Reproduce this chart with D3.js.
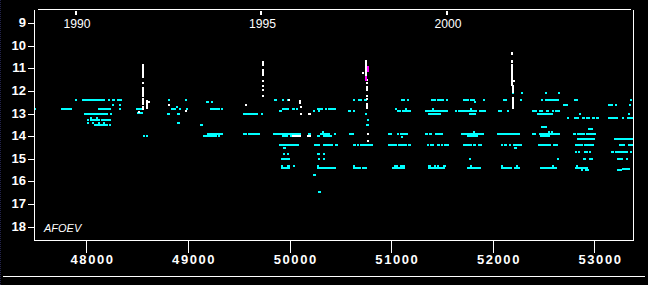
<!DOCTYPE html>
<html><head><meta charset="utf-8">
<script src="https://cdn.jsdelivr.net/npm/d3@7"></script>
<style>
html,body{margin:0;padding:0;background:#000;overflow:hidden;}
svg{display:block;}
</style></head><body>
<svg id="c" width="648" height="285"></svg>
<script>
// ---- data ----
const yearLabels = ["1990", "1995", "2000"];
const yearJD = [47892.5, 49718.5, 51544.5];
const jdTicks = [48000, 49000, 50000, 51000, 52000, 53000];
const magTicks = [9, 10, 11, 12, 13, 14, 15, 16, 17, 18];

// visual observations, runs: [JD start, JD end, magnitude]
const cyanRuns = [
[47485,47485,12.8],[47751,47839,12.8],[47889,47889,12.4],[47957,48164,12.4],[48213,48213,12.4],
[48253,48262,12.4],[48302,48331,12.4],[48115,48223,12.8],[48253,48253,12.6],[48322,48322,12.6],
[48322,48322,12.8],[47977,48194,13.0],[48233,48233,13.0],[48036,48036,13.2],[48095,48095,13.2],
[48007,48007,13.3],[48007,48007,13.4],[48036,48115,13.3],[48144,48223,13.3],[48076,48194,13.5],
[48223,48223,13.5],[48056,48056,13.4],[48115,48115,13.4],[48164,48164,13.4],
[48489,48538,12.8],[48499,48538,12.95],[48562,48562,14.0],[48587,48587,14.0],
[48794,48804,13.0],[48804,48804,12.4],[48833,48862,12.8],[48882,48882,12.7],[48912,48912,12.8],
[48892,48902,13.0],[48892,48902,13.4],[48971,48971,12.4],[48981,48981,12.8],
[49178,49188,12.5],[49227,49227,12.5],[49217,49296,12.8],[49325,49325,12.8],[49119,49128,13.5],
[49188,49325,13.9],[49148,49266,14.0],[49296,49296,14.0],[49542,49670,13.0],[49719,49719,13.0],
[49542,49561,13.9],[49591,49690,13.9],[49847,49857,12.4],[49926,49926,12.4],[49975,49975,12.4],
[49926,49975,12.8],[50024,50034,12.8],[50064,50064,12.8],[49896,49906,12.9],[49837,50093,13.9],
[49926,49965,14.0],[50004,50004,14.0],[50182,50191,13.9],[50270,50310,12.8],[50349,50349,12.8],
[50378,50418,12.8],[50438,50438,12.8],[50231,50231,12.9],[50280,50280,12.9],[50300,50378,13.9],
[50319,50319,13.8],[50270,50280,14.0],[50329,50398,14.0],[49896,50073,14.4],[49936,49946,14.5],
[49936,49936,14.8],[49975,49975,14.8],[49916,49985,15.0],[49916,49916,15.3],[49975,49985,15.3],
[49916,49985,15.4],[50034,50034,15.3],[50231,50241,15.7],[50280,50290,16.45],[50241,50280,14.4],
[50329,50408,14.4],[50270,50280,14.8],[50329,50329,14.8],[50280,50280,15.0],[50329,50329,15.0],
[50270,50270,15.3],[50270,50418,15.4],
[50575,50585,12.9],[50625,50625,12.9],[50625,50625,12.4],[50674,50693,12.4],[50733,50743,12.4],
[50743,50743,13.0],[50762,50762,13.3],[50753,50762,13.5],[51097,51117,12.4],[51156,51156,12.4],
[51392,51422,12.4],[51451,51501,12.4],[51540,51540,12.4],[51707,51747,12.4],[51776,51806,12.4],
[51816,51816,12.5],[51904,51904,12.4],[51038,51038,12.8],[51136,51136,12.8],[51058,51077,12.9],
[51107,51176,12.9],[51402,51402,12.8],[51333,51540,12.9],[51363,51471,13.0],[51629,51629,12.9],
[51658,51826,12.9],[51776,51776,12.8],[51766,51816,13.0],[51865,51894,12.9],
[50438,50438,13.9],[50585,50615,13.9],[50969,50989,13.9],[51058,51058,13.9],[51087,51146,13.9],
[51097,51097,14.05],[51333,51343,13.9],[51373,51382,13.9],[51432,51491,13.9],[51688,51894,13.9],
[51747,51835,14.0],[51806,51806,13.8],
[50447,50457,14.4],[50625,50635,14.4],[50664,50664,14.4],[50693,50802,14.4],[50969,51038,14.4],
[51068,51136,14.4],[51166,51176,14.4],[51353,51353,14.4],[51382,51402,14.4],[51451,51461,14.4],
[51491,51491,14.4],[51520,51550,14.4],[51707,51776,14.4],[51806,51816,14.4],[51855,51875,14.4],
[51766,51766,15.0],[50438,50438,15.4],[50625,50684,15.4],[50625,50625,15.3],[50713,50743,15.4],
[51008,51117,15.4],[51028,51048,15.3],[51087,51117,15.3],[51363,51510,15.4],[51363,51373,15.3],
[51422,51422,15.3],[51451,51451,15.3],[51510,51520,15.3],[51747,51865,15.4],[51776,51776,15.3],
[52190,52190,12.1],[52278,52278,12.1],[52514,52514,12.1],[52642,52642,12.1],[52101,52121,12.4],
[52268,52268,12.4],[52475,52475,12.4],[52514,52633,12.4],[52800,52820,12.4],[53351,53351,12.4],
[52692,52721,12.6],[53135,53164,12.6],[53203,53203,12.6],[53341,53341,12.6],[52849,52849,13.0],
[53331,53331,13.0],[51914,51914,12.9],[52052,52072,12.9],[52140,52140,12.9],[52386,52416,12.9],
[52455,52475,12.9],[52524,52534,12.9],[52583,52583,12.9],[52613,52642,12.9],[52436,52573,13.0],
[52731,52731,13.2],[52800,52829,13.2],[52879,52888,13.2],[52918,52938,13.2],[52977,52987,13.2],
[53016,53026,13.2],[53135,53213,13.2],[53272,53272,13.2],[53322,53371,13.2],[52475,52514,13.6],
[52938,52967,13.7],[52042,52249,13.9],[52386,52406,13.9],[52455,52642,13.9],[52465,52534,14.0],
[52544,52544,13.8],[52544,52544,14.0],[52573,52573,13.8],[52790,52800,13.9],[52829,52888,13.9],
[52918,52997,13.9],[52829,52987,14.1],[53194,53371,14.1],[52081,52081,14.4],[52111,52121,14.4],
[52160,52160,14.4],[52199,52268,14.4],[52209,52219,14.5],[52446,52554,14.4],[52593,52623,14.4],
[52810,52869,14.4],[52898,52977,14.4],[53243,53282,14.4],[53331,53371,14.4],[52810,52810,14.7],
[52839,52839,14.7],[52898,52918,14.7],[52948,52948,14.7],[53164,53174,14.7],[53203,53312,14.7],
[53351,53351,14.7],[52633,52633,15.0],[52888,52898,15.0],[52948,52967,15.0],[53223,53263,15.0],
[53312,53312,15.0],[52081,52170,15.4],[52081,52081,15.3],[52209,52249,15.4],[52229,52229,15.3],
[52465,52613,15.4],[52583,52583,15.3],[52810,52918,15.4],[52820,52820,15.3],[52869,52869,15.5],
[52908,52928,15.5],[53223,53253,15.5],[53272,53292,15.45],[53312,53331,15.45]
];

// other observations, runs: [JD start, JD end, mag top, mag bottom]
const whiteRuns = [
[48548,48548,10.85,11.3],[48548,48548,11.38,11.38],[48548,48548,11.64,11.64],[48548,48548,11.87,12.13],
[48548,48548,12.22,12.22],[48548,48548,12.35,12.57],[48587,48587,12.44,12.75],[48607,48607,12.5,12.5],
[48548,48548,12.72,12.8],[48508,48508,12.93,12.93],[48804,48804,12.6,12.6],[48971,48971,12.9,12.9],
[49729,49729,10.7,10.85],[49729,49729,11.05,11.3],[49729,49729,11.56,11.56],[49729,49729,11.78,11.78],
[49729,49729,11.95,11.95],[49729,49729,12.22,12.22],[49561,49561,12.6,12.6],[49985,49985,12.4,12.4],
[50093,50093,12.45,12.55],[50103,50103,12.7,12.7],[50103,50103,13.0,13.0],[50182,50191,13.0,13.0],
[50024,50093,14.0,14.0],[50172,50191,14.0,14.0],
[50743,50743,10.67,11.29],[50713,50713,11.2,11.2],[50753,50753,11.5,11.5],[50753,50753,11.65,11.65],
[50753,50753,11.8,11.95],[50753,50753,12.2,12.2],[50753,50753,12.35,12.35],[50753,50753,12.57,12.75],
[50762,50762,13.9,13.9],[50762,50762,14.2,14.2],
[52180,52180,10.3,10.35],[52180,52180,10.67,10.72],[52180,52180,10.85,11.33],[52180,52180,11.38,11.73],
[52199,52199,11.55,11.55],[52190,52190,11.78,12.05],[52190,52190,12.3,12.75]
];

const magentaRuns = [
[50762,50762,10.95,11.12],[50743,50743,11.38,11.5]
];

// ---- drawing ----
const W = 648, H = 285;
const svg = d3.select("#c");
svg.append("rect").attr("width", W).attr("height", H).attr("fill", "#000");

const x = d3.scaleLinear().domain([47485, 53384]).range([34, 633.3]);
const y = d3.scaleLinear().domain([8.37, 18.59]).range([9, 240]);

svg.append("defs").append("clipPath").attr("id", "plot")
  .append("rect").attr("x", 35).attr("y", 10).attr("width", 598).attr("height", 230);

const g = svg.append("g").attr("clip-path", "url(#plot)").attr("shape-rendering", "crispEdges");

g.selectAll("rect.cy").data(cyanRuns).join("rect").attr("class", "cy")
  .attr("x", d => Math.round(x(d[0])))
  .attr("y", d => Math.round(y(d[2]) - 1))
  .attr("width", d => Math.round(x(d[1])) - Math.round(x(d[0])) + 2)
  .attr("height", 2)
  .attr("fill", "#00ffff");

function vruns(cls, data, color) {
  g.selectAll("rect." + cls).data(data).join("rect").attr("class", cls)
    .attr("x", d => Math.round(x(d[0])))
    .attr("y", d => Math.round(y(d[2]) - 1))
    .attr("width", d => Math.round(x(d[1])) - Math.round(x(d[0])) + 2)
    .attr("height", d => Math.round(y(d[3])) - Math.round(y(d[2])) + 2)
    .attr("fill", color);
}
vruns("wh", whiteRuns, "#ffffff");
vruns("mg", magentaRuns, "#ff00ff");

// frame
const frame = svg.append("g").attr("stroke", "#fff").attr("stroke-width", 1).attr("shape-rendering", "crispEdges");
frame.append("line").attr("x1", 38).attr("x2", 631).attr("y1", 9.5).attr("y2", 9.5);
frame.append("line").attr("x1", 34.5).attr("x2", 34.5).attr("y1", 10).attr("y2", 241);
frame.append("line").attr("x1", 633.5).attr("x2", 633.5).attr("y1", 10).attr("y2", 241);
frame.append("line").attr("x1", 34).attr("x2", 634).attr("y1", 240.5).attr("y2", 240.5);
frame.append("line").attr("x1", 3).attr("x2", 645).attr("y1", 276.5).attr("y2", 276.5);
svg.append("line").attr("x1", 0.5).attr("x2", 0.5).attr("y1", 0).attr("y2", H)
  .attr("stroke", "#22224a").attr("stroke-dasharray", "1,1");

// left axis
const ya = svg.append("g").attr("transform", "translate(34,0)")
  .call(d3.axisLeft(y).tickValues(magTicks).tickSize(6).tickPadding(2).tickFormat(d3.format("d")));
ya.select(".domain").remove();
ya.selectAll("line").attr("stroke", "#fff").attr("shape-rendering", "crispEdges");
ya.selectAll("text").attr("fill", "#fff")
  .attr("font-family", "'Liberation Sans', Arial, sans-serif")
  .attr("font-weight", "bold").attr("font-size", 13).attr("dy", "0.27em");

// bottom axis
const xa = svg.append("g").attr("transform", "translate(0,240)")
  .call(d3.axisBottom(x).tickValues(jdTicks).tickSize(13).tickFormat(d3.format("d")));
xa.select(".domain").remove();
xa.selectAll("line").attr("stroke", "#fff").attr("shape-rendering", "crispEdges");
xa.selectAll("text").attr("fill", "#fff")
  .attr("font-family", "'Liberation Sans', Arial, sans-serif")
  .attr("font-weight", "bold").attr("font-size", 13)
  .attr("text-anchor", "start").attr("x", -16.3).attr("y", 24).attr("dy", 0)
  .attr("textLength", 42.5).attr("lengthAdjust", "spacing");

// top axis (years)
const ta = svg.append("g").attr("transform", "translate(0,15)")
  .call(d3.axisTop(x).tickValues(yearJD).tickSize(4).tickFormat((d, i) => yearLabels[i]));
ta.select(".domain").remove();
ta.selectAll("line").attr("stroke", "#fff").attr("stroke-width", 2).attr("shape-rendering", "crispEdges");
ta.selectAll("text").attr("fill", "#fff")
  .attr("font-family", "'Liberation Sans', Arial, sans-serif")
  .attr("font-weight", "normal").attr("font-size", 13.5)
  .attr("text-anchor", "middle").attr("x", 1).attr("y", 13.3).attr("dy", 0)
  .attr("textLength", 27).attr("lengthAdjust", "spacingAndGlyphs");

// source label
svg.append("text").attr("x", 44).attr("y", 231.5)
  .attr("font-family", "'Liberation Sans', Arial, sans-serif")
  .attr("font-style", "italic").attr("font-size", 11).attr("fill", "#fff")
  .text("AFOEV");
</script>
</body></html>
